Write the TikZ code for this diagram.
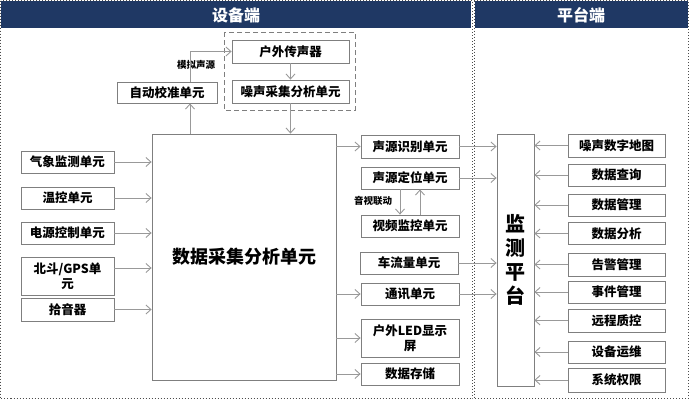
\documentclass[tikz,border=0pt]{standalone}
\usepackage{fontspec}
\setmainfont{Noto Sans CJK SC}
\usepackage{tikz}
\usetikzlibrary{arrows.meta}
\usetikzlibrary{positioning}
\definecolor{headblue}{HTML}{1F3864}
\definecolor{boxgray}{HTML}{7F7F7F}
\definecolor{linegray}{HTML}{999999}
\tikzset{box/.style = {draw=boxgray, line width=0.8pt, fill=white, inner sep=0pt,
                       align=center, font=\bfseries\fontsize{12.5}{15}\selectfont}}
\tikzset{arr/.style = {draw=linegray, line width=0.9pt,
                       -{Straight Barb[length=5pt,width=9pt,line width=0.9pt]}}}
\tikzset{lbl/.style = {inner sep=0pt, font=\bfseries\fontsize{9.5}{11}\selectfont}}
\tikzset{head/.style = {inner sep=0pt, text=white, font=\bfseries\fontsize{16}{18}\selectfont}}
\tikzset{frame/.style = {draw=black!70, line width=1pt, dotted}}
\begin{document}
\begin{tikzpicture}[x=1pt, y=-1pt]
	\useasboundingbox (0,0) rectangle (689,400);
	\fill[headblue] (1,1) rectangle (471,28);
	\fill[headblue] (475,1) rectangle (688,28);
	\draw[frame] (0.5,0.5) rectangle (472.5,398.5);
	\draw[frame] (474,0.5) rectangle (688.5,398.5);
	\node[head] (devhead) at (236,15) {设备端};
	\node[head] (plathead) at (581,15) {平台端};
	\draw[boxgray, line width=1pt, dash pattern=on 5pt off 3pt] (224,32) rectangle (355,110);
	\node[box, minimum width=117, minimum height=23] (mic) at (290.5,51.5) {户外传声器};
	\node[box, minimum width=117, minimum height=23] (noise) at (290.5,91.5) {噪声采集分析单元};
	\node[box, minimum width=100, minimum height=21] (calib) at (167,92.5) {自动校准单元};
	\node[box, minimum width=184, minimum height=246, font=\bfseries\fontsize{18}{22}\selectfont] (main) at (244,257) {数据采集分析单元};
	\node[box, minimum width=93, minimum height=22] (weather) at (67.5,162) {气象监测单元};
	\node[box, minimum width=93, minimum height=22] (temp) at (67.5,198) {温控单元};
	\node[box, minimum width=93, minimum height=22] (power) at (67.5,233) {电源控制单元};
	\node[box, minimum width=93, minimum height=38] (gps) at (67.5,276) {北斗/GPS单\\元};
	\node[box, minimum width=93, minimum height=23] (pickup) at (67.5,309.5) {拾音器};
	\node[box, minimum width=98, minimum height=23] (ident) at (410,146.5) {声源识别单元};
	\node[box, minimum width=98, minimum height=22] (locate) at (410,178) {声源定位单元};
	\node[box, minimum width=98, minimum height=22] (video) at (410,226) {视频监控单元};
	\node[box, minimum width=98, minimum height=22] (traffic) at (409,263) {车流量单元};
	\node[box, minimum width=98, minimum height=22] (comm) at (410,294) {通讯单元};
	\node[box, minimum width=98, minimum height=38] (led) at (410,338) {户外LED显示\\屏};
	\node[box, minimum width=98, minimum height=22] (store) at (410,374) {数据存储};
	\node[box, minimum width=37, minimum height=252, font=\bfseries\fontsize{20}{24}\selectfont] (plat) at (515.5,260) {监\\测\\平\\台};
	\node[box, minimum width=97, minimum height=23] (map) at (616.5,145.5) {噪声数字地图};
	\node[box, minimum width=97, minimum height=22] (query) at (616.5,175) {数据查询};
	\node[box, minimum width=97, minimum height=22] (manage) at (616.5,205) {数据管理};
	\node[box, minimum width=97, minimum height=22] (analyse) at (616.5,233.5) {数据分析};
	\node[box, minimum width=97, minimum height=23] (alarm) at (616.5,264.5) {告警管理};
	\node[box, minimum width=97, minimum height=22] (event) at (616.5,292) {事件管理};
	\node[box, minimum width=97, minimum height=23] (remote) at (616.5,320.5) {远程质控};
	\node[box, minimum width=97, minimum height=22] (maint) at (616.5,352) {设备运维};
	\node[box, minimum width=97, minimum height=24] (auth) at (616.5,380) {系统权限};
	\node[lbl] (simlbl) at (196,65) {模拟声源};
	\node[lbl] (avlbl) at (373,201) {音视联动};
	\coordinate (tap) at (190,0);
	\coordinate (down) at (400,0);
	\coordinate (up) at (420,0);
	\draw[arr] (mic) -- (noise);
	\draw[arr] (noise.south) -- (noise.south |- main.north);
	\draw[arr] (main.north -| tap) -- (calib.south -| tap);
	\draw[arr] (calib.north -| tap) |- (mic.west);
	\foreach \n in {weather, temp, power, pickup}
		\draw[arr] (\n.east) -- (\n.east -| main.west);
	\draw[arr] ([yshift=8pt]gps.east) -- ([yshift=8pt]gps.east -| main.west);
	\foreach \n in {ident, comm, led, store}
		\draw[arr] (\n.west -| main.east) -- (\n.west);
	\draw[arr] (locate.south -| down) -- (video.north -| down);
	\draw[arr] (video.north -| up) -- (locate.south -| up);
	\foreach \n in {ident, locate, traffic, comm}
		\draw[arr] (\n.east) -- (\n.east -| plat.west);
	\foreach \n in {map, query, manage, analyse, alarm, event, remote, maint, auth}
		\draw[arr] (\n.west) -- (\n.west -| plat.east);
\end{tikzpicture}
\end{document}
